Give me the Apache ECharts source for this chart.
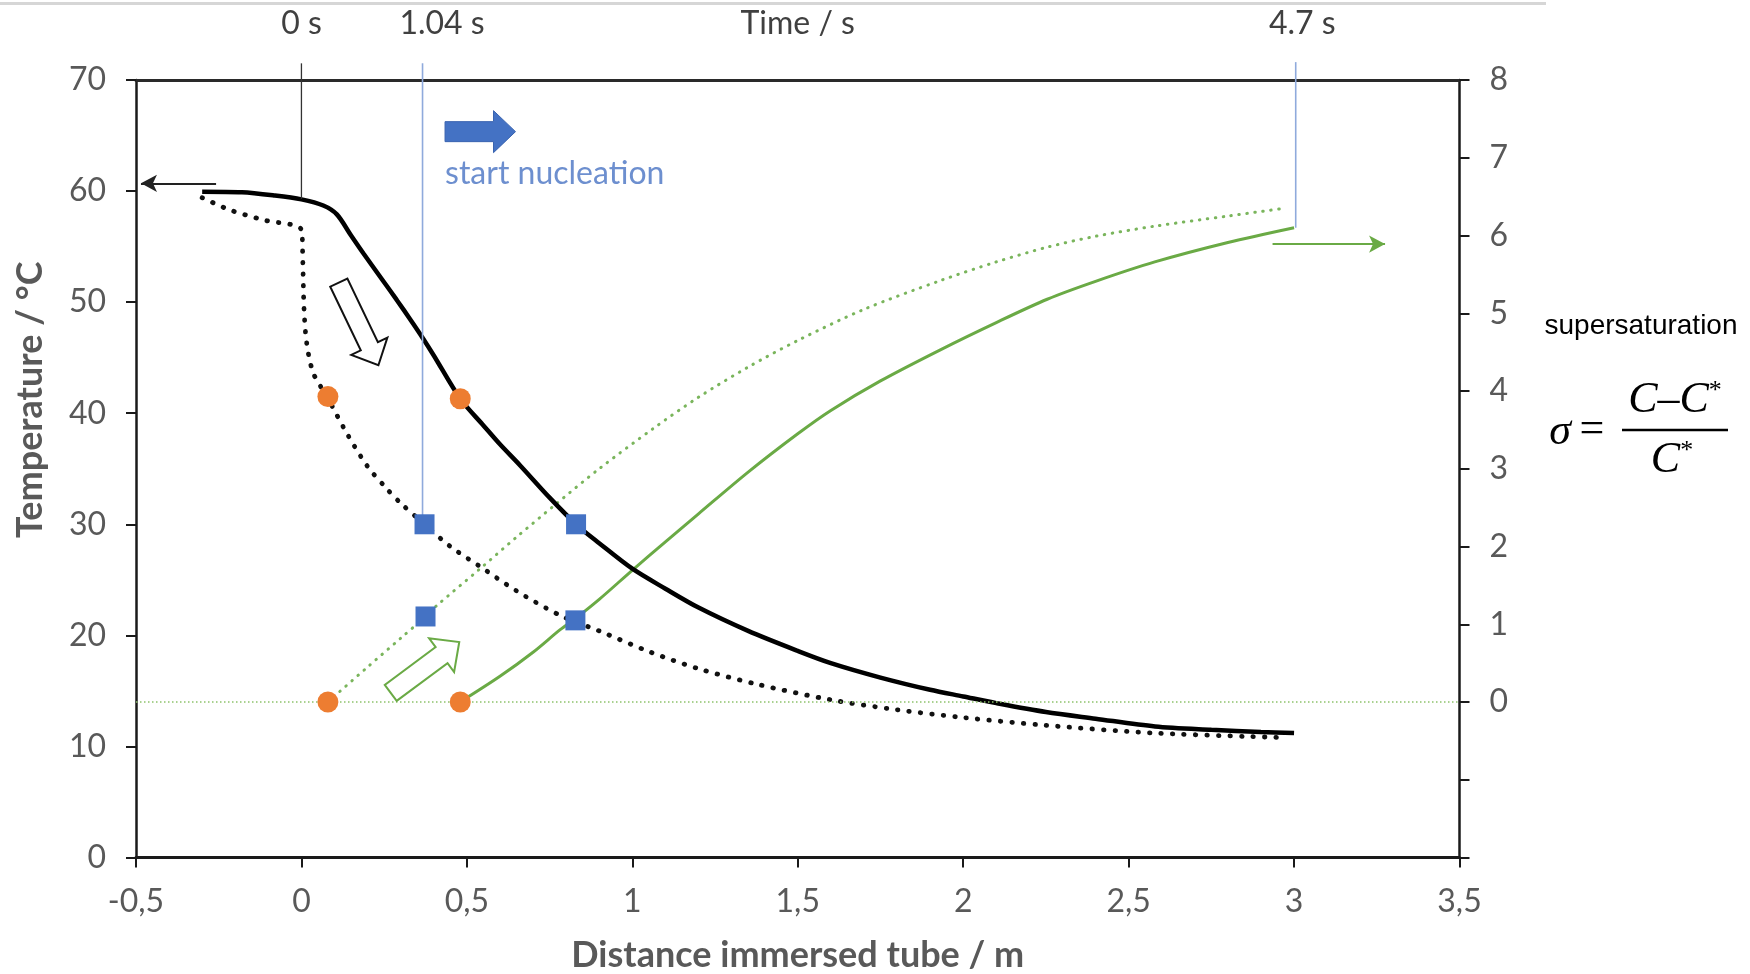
<!DOCTYPE html>
<html>
<head>
<meta charset="utf-8">
<script src="https://cdn.jsdelivr.net/npm/echarts@6/dist/echarts.min.js"></script>
<style>
html, body { margin: 0; padding: 0; background: #fff; }
#main { width: 1750px; height: 974px; }
</style>
</head>
<body>
<div id="main"></div>
<script>
// temperature along the tube, solid line (m, °C)
var tempSolidX = [-0.30, -0.18, -0.08, 0.0, 0.066, 0.107, 0.15, 0.187, 0.24, 0.288, 0.33, 0.366, 0.40, 0.48, 0.55, 0.60, 0.661, 0.75, 0.83, 0.90, 1.0, 1.1, 1.2, 1.35, 1.5, 1.6, 1.75, 1.9, 2.0, 2.1, 2.25, 2.4, 2.58, 2.75, 2.9, 3.0];
var tempSolidY = [59.95, 59.9, 59.6, 59.25, 58.7, 57.9, 56.0, 54.4, 52.2, 50.2, 48.4, 46.8, 45.2, 41.3, 38.9, 37.2, 35.3, 32.4, 30.0, 28.3, 26.0, 24.2, 22.5, 20.4, 18.6, 17.5, 16.2, 15.1, 14.5, 13.9, 13.1, 12.5, 11.8, 11.5, 11.3, 11.2];

// temperature along the tube, dotted line (m, °C)
var tempDotX = [-0.30, -0.216, -0.115, 0.0, 0.004, 0.008, 0.016, 0.036, 0.077, 0.137, 0.2, 0.258, 0.30, 0.372, 0.45, 0.54, 0.65, 0.782, 0.90, 1.054, 1.2, 1.377, 1.6, 1.8, 2.0, 2.25, 2.58, 2.97];
var tempDotY = [59.4, 58.3, 57.4, 56.5, 53.8, 49.3, 46.3, 43.6, 41.5, 38.2, 35.2, 33.2, 31.9, 30.0, 28.0, 26.2, 24.0, 21.8, 20.4, 18.5, 17.0, 15.6, 14.2, 13.3, 12.6, 11.9, 11.2, 10.8];

// supersaturation, dotted line (m, sigma)
var sigmaDotX = [0.08, 0.2, 0.3, 0.375, 0.409, 0.536, 0.65, 0.762, 0.9, 1.064, 1.2, 1.351, 1.5, 1.7, 1.931, 2.1, 2.254, 2.4, 2.579, 2.8, 2.97];
var sigmaDotY = [0, 0.45, 0.82, 1.10, 1.24, 1.70, 2.12, 2.52, 3.0, 3.52, 3.92, 4.31, 4.65, 5.05, 5.42, 5.66, 5.85, 5.99, 6.12, 6.25, 6.35];

// supersaturation, solid line (m, sigma)
var sigmaSolidX = [0.48, 0.6, 0.7, 0.782, 0.83, 0.9, 1.004, 1.1, 1.2, 1.351, 1.5, 1.6, 1.75, 1.931, 2.1, 2.254, 2.4, 2.579, 2.8, 3.0];
var sigmaSolidY = [0, 0.33, 0.64, 0.93, 1.08, 1.32, 1.71, 2.06, 2.42, 2.96, 3.45, 3.75, 4.13, 4.53, 4.88, 5.18, 5.41, 5.66, 5.91, 6.10];

// markers
var orangeTemp = [[0.08, 41.5], [0.48, 41.3]];
var orangeSigma = [[0.08, 0], [0.48, 0]];
var blueTemp = [[0.372, 30.0], [0.83, 30.0]];
var blueSigma = [[0.375, 1.10], [0.828, 1.05]];

// time marks on the top axis
var timeLabels = ['0 s', '1.04 s', '4.7 s'];
var timeLabelPos = [0, 0.425, 3.025];
var startLine = [[0, 71.5], [0, 59.3]];
var nucleationLine = [[0.366, 71.5], [0.366, 30.0]];
var endLine = [[3.005, 8.23], [3.005, 6.10]];

// annotation arrows (tail, tip)
var tempArrow = [[-0.258, 60.7], [-0.485, 60.7]];
var sigmaArrow = [[2.935, 5.89], [3.275, 5.89]];
var nucleationArrow = [[0.434, 65.35], [0.647, 65.35]];
var coolingArrow = [[0.113, 51.76], [0.2326, 44.32]];
var growthArrow = [[0.2698, 14.82], [0.477, 19.4]];

function zip(xs, ys) {
    return xs.map(function (x, i) { return [x, ys[i]]; });
}

var axisFont = 'Lato';
var labelColor = '#595959';

var chart = echarts.init(document.getElementById('main'));

var option = {
    animation: false,
    backgroundColor: '#fff',
    grid: { left: 136, right: 290.5, top: 80, bottom: 116.5, outerBoundsMode: 'none', containLabel: false },
    xAxis: [
        {
            type: 'value', min: -0.5, max: 3.5, interval: 0.5,
            name: 'Distance immersed tube / m', nameLocation: 'middle', nameGap: 80, nameMoveOverlap: false,
            nameTextStyle: { fontFamily: axisFont, fontWeight: 'bold', fontSize: 36, color: labelColor },
            axisLine: { show: true, onZero: false, lineStyle: { color: '#1a1a1a', width: 3 } },
            axisTick: { show: true, length: 10, lineStyle: { color: '#1a1a1a', width: 2 } },
            axisLabel: {
                margin: 28, fontFamily: axisFont, fontSize: 32, color: labelColor,
                formatter: function (v) { return String(v).replace('.', ','); }
            },
            splitLine: { show: false }
        },
        {
            type: 'value', min: -0.5, max: 3.5, position: 'top',
            name: 'Time / s', nameLocation: 'middle', nameGap: 40, nameMoveOverlap: false,
            nameTextStyle: { fontFamily: axisFont, fontSize: 32, color: '#404040' },
            axisLine: { show: true, onZero: false, lineStyle: { color: '#2a2a2a', width: 3 } },
            axisTick: { show: false },
            axisLabel: {
                margin: 40, fontFamily: axisFont, fontSize: 32, color: '#404040',
                customValues: timeLabelPos,
                formatter: function (v) {
                    var i = timeLabelPos.indexOf(v);
                    return i >= 0 ? timeLabels[i] : '';
                }
            },
            splitLine: { show: false }
        }
    ],
    yAxis: [
        {
            type: 'value', min: 0, max: 70, interval: 10,
            name: 'Temperature / °C', nameLocation: 'middle', nameGap: 88, nameMoveOverlap: false,
            nameTextStyle: { fontFamily: axisFont, fontWeight: 'bold', fontSize: 36, color: labelColor, padding: [0, 0, 0, 138] },
            axisLine: { show: true, onZero: false, lineStyle: { color: '#1a1a1a', width: 2.5 } },
            axisTick: { show: true, length: 10, lineStyle: { color: '#1a1a1a', width: 2 } },
            axisLabel: { margin: 30, fontFamily: axisFont, fontSize: 32, color: labelColor },
            splitLine: { show: false }
        },
        {
            type: 'value', min: -2, max: 8, interval: 1, position: 'right',
            axisLine: { show: true, onZero: false, lineStyle: { color: '#1a1a1a', width: 2.5 } },
            axisTick: { show: true, length: 10, lineStyle: { color: '#1a1a1a', width: 2 } },
            axisLabel: {
                margin: 30, fontFamily: axisFont, fontSize: 32, color: labelColor,
                formatter: function (v) { return v < 0 ? '' : String(v); }
            },
            splitLine: { show: false }
        }
    ],
    series: [
        {
            type: 'line', yAxisIndex: 1, data: zip(sigmaDotX, sigmaDotY),
            showSymbol: false, smooth: 0.3, z: 2,
            lineStyle: { color: '#7AB55C', width: 3, type: [0.5, 7.5], cap: 'round' },
            markLine: {
                silent: true, symbol: 'none', label: { show: false },
                lineStyle: { color: '#8DC26B', width: 1.5, type: [1.5, 2.5] },
                data: [{ yAxis: 0 }]
            }
        },
        {
            type: 'line', yAxisIndex: 1, data: zip(sigmaSolidX, sigmaSolidY),
            showSymbol: false, smooth: 0.3, z: 2,
            lineStyle: { color: '#6AAA45', width: 3 },
            markLine: {
                silent: true, symbol: ['none', 'arrow'], symbolSize: [13, 16], label: { show: false },
                lineStyle: { color: '#6AAA45', width: 2, type: 'solid' },
                data: [[{ coord: sigmaArrow[0] }, { coord: sigmaArrow[1] }]]
            }
        },
        {
            type: 'line', yAxisIndex: 0, data: zip(tempDotX, tempDotY),
            showSymbol: false, smooth: 0.3, z: 3,
            lineStyle: { color: '#111', width: 4.8, type: [0.5, 11], cap: 'round' }
        },
        {
            type: 'line', yAxisIndex: 0, data: zip(tempSolidX, tempSolidY),
            showSymbol: false, smooth: 0.3, z: 3,
            lineStyle: { color: '#000', width: 4.5 },
            markLine: {
                silent: true, symbol: ['none', 'arrow'], symbolSize: [13, 16], label: { show: false },
                lineStyle: { color: '#222', width: 2, type: 'solid' },
                data: [[{ coord: tempArrow[0] }, { coord: tempArrow[1] }]]
            }
        },
        {
            type: 'line', yAxisIndex: 0, data: startLine, clip: false, showSymbol: false, z: 4,
            lineStyle: { color: '#333', width: 1.3 }
        },
        {
            type: 'line', yAxisIndex: 0, data: nucleationLine, clip: false, showSymbol: false, z: 4,
            lineStyle: { color: '#8FAADC', width: 1.6 }
        },
        {
            type: 'line', yAxisIndex: 1, data: endLine, clip: false, showSymbol: false, z: 4,
            lineStyle: { color: '#8FAADC', width: 1.6 }
        },
        {
            type: 'scatter', yAxisIndex: 0, data: orangeTemp, symbol: 'circle', symbolSize: 21, z: 6,
            itemStyle: { color: '#ED7D31', opacity: 1 }
        },
        {
            type: 'scatter', yAxisIndex: 1, data: orangeSigma, symbol: 'circle', symbolSize: 21, z: 6,
            itemStyle: { color: '#ED7D31', opacity: 1 }
        },
        {
            type: 'scatter', yAxisIndex: 0, data: blueTemp, symbol: 'rect', symbolSize: 20, z: 6,
            itemStyle: { color: '#4472C4', opacity: 1 }
        },
        {
            type: 'scatter', yAxisIndex: 1, data: blueSigma, symbol: 'rect', symbolSize: 20, z: 6,
            itemStyle: { color: '#4472C4', opacity: 1 }
        }
    ]
};

chart.setOption(option);

function px(p) {
    return chart.convertToPixel({ xAxisIndex: 0, yAxisIndex: 0 }, p);
}

// block arrow outline from tail centre a to tip b
function arrowPoly(a, b, bodyHalf, headHalf, headLen) {
    var dx = b[0] - a[0], dy = b[1] - a[1];
    var len = Math.sqrt(dx * dx + dy * dy);
    var ux = dx / len, uy = dy / len, nx = -uy, ny = ux;
    var hx = b[0] - ux * headLen, hy = b[1] - uy * headLen;
    return [
        [a[0] + nx * bodyHalf, a[1] + ny * bodyHalf],
        [hx + nx * bodyHalf, hy + ny * bodyHalf],
        [hx + nx * headHalf, hy + ny * headHalf],
        [b[0], b[1]],
        [hx - nx * headHalf, hy - ny * headHalf],
        [hx - nx * bodyHalf, hy - ny * bodyHalf],
        [a[0] - nx * bodyHalf, a[1] - ny * bodyHalf]
    ];
}

var nucA = px(nucleationArrow[0]), nucB = px(nucleationArrow[1]);
var coolA = px(coolingArrow[0]), coolB = px(coolingArrow[1]);
var growA = px(growthArrow[0]), growB = px(growthArrow[1]);
var textPos = px([0.434, 61.6]);
var serif = '"Liberation Serif", "DejaVu Serif", serif';

chart.setOption({
    graphic: [
        { type: 'rect', shape: { x: 0, y: 2, width: 1546, height: 3 }, style: { fill: '#D6D6D6' }, silent: true },
        {
            type: 'polygon', shape: { points: arrowPoly(nucA, nucB, 10, 21, 22) },
            style: { fill: '#4472C4', stroke: '#3A64B0', lineWidth: 1 }, z: 10
        },
        {
            type: 'text', x: textPos[0], y: textPos[1],
            style: { text: 'start nucleation', font: '32px Lato', fill: '#6D8FCF', textAlign: 'left', textVerticalAlign: 'middle' }, z: 10
        },
        {
            type: 'polygon', shape: { points: arrowPoly(coolA, coolB, 9.5, 20, 21) },
            style: { fill: '#fff', stroke: '#111', lineWidth: 2 }, z: 10
        },
        {
            type: 'polygon', shape: { points: arrowPoly(growA, growB, 10, 21, 22) },
            style: { fill: '#fff', stroke: '#6AAA45', lineWidth: 2 }, z: 10
        },
        {
            type: 'text', x: 1641, y: 326,
            style: { text: 'supersaturation', font: '28px "Liberation Sans", Arial, sans-serif', fill: '#000', textAlign: 'center', textVerticalAlign: 'middle' }
        },
        {
            type: 'text', x: 1560, y: 432,
            style: { text: 'σ', font: 'italic 44px ' + serif, fill: '#000', textAlign: 'center', textVerticalAlign: 'middle' }
        },
        {
            type: 'text', x: 1592, y: 430,
            style: { text: '=', font: '44px ' + serif, fill: '#000', textAlign: 'center', textVerticalAlign: 'middle' }
        },
        {
            type: 'text', x: 1675, y: 400,
            style: {
                text: '{c|C–C}{s|*}', textAlign: 'center', textVerticalAlign: 'middle',
                rich: {
                    c: { font: 'italic 44px ' + serif, fill: '#000' },
                    s: { font: '26px ' + serif, fill: '#000', verticalAlign: 'top' }
                }
            }
        },
        { type: 'line', shape: { x1: 1622, y1: 430, x2: 1728, y2: 430 }, style: { stroke: '#000', lineWidth: 2.5 } },
        {
            type: 'text', x: 1672, y: 460,
            style: {
                text: '{c|C}{s|*}', textAlign: 'center', textVerticalAlign: 'middle',
                rich: {
                    c: { font: 'italic 44px ' + serif, fill: '#000' },
                    s: { font: '26px ' + serif, fill: '#000', verticalAlign: 'top' }
                }
            }
        }
    ]
});
</script>
</body>
</html>
